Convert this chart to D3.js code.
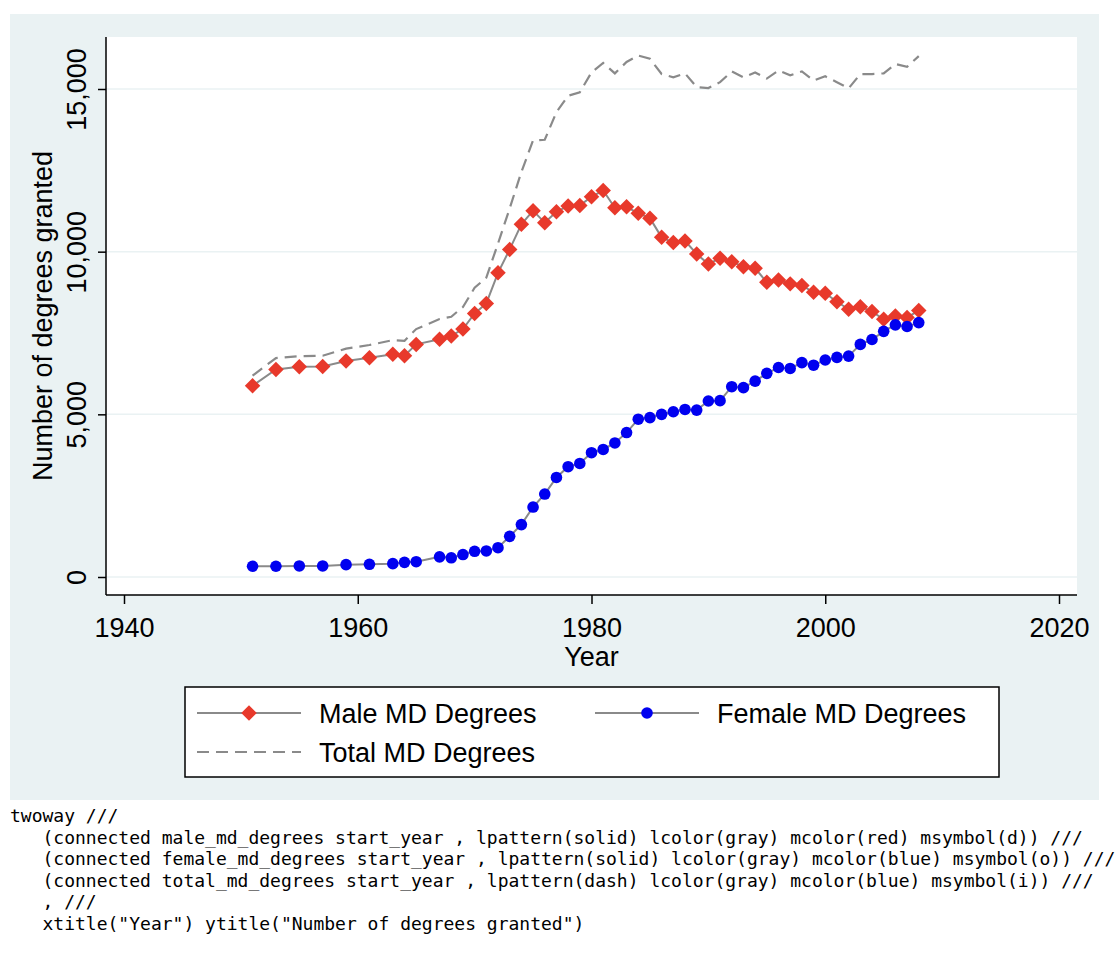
<!DOCTYPE html>
<html>
  <head>
    <script src="https://d3js.org/d3.v7.min.js"></script>
    <style>
      body { margin: 0; background: #fff; }
      text { font-family: "Liberation Sans", Arial, sans-serif; }
      .code { font-family: "DejaVu Sans Mono", monospace; font-size: 18px; white-space: pre; }
    </style>
  </head>
  <body>
    <script>

// values
const years = [1951, 1953, 1955, 1957, 1959, 1961, 1963, 1964, 1965, 1967, 1968, 1969, 1970,
  1971, 1972, 1973, 1974, 1975, 1976, 1977, 1978, 1979, 1980, 1981, 1982, 1983, 1984, 1985,
  1986, 1987, 1988, 1989, 1990, 1991, 1992, 1993, 1994, 1995, 1996, 1997, 1998, 1999, 2000,
  2001, 2002, 2003, 2004, 2005, 2006, 2007, 2008];

const male = [5880, 6380, 6460, 6470, 6640, 6740, 6850, 6800, 7150, 7310, 7410, 7620, 8100,
  8410, 9350, 10070, 10840, 11260, 10890, 11230, 11400, 11420, 11690, 11880, 11350, 11380, 11180, 11030,
  10440, 10280, 10330, 9930, 9620, 9800, 9690, 9540, 9490, 9060, 9130, 9010, 8960, 8750, 8720,
  8460, 8230, 8310, 8160, 7920, 8020, 7980, 8190];

const female = [330, 330, 340, 340, 380, 390, 410, 450, 470, 620, 590, 690, 790,
  800, 900, 1250, 1610, 2150, 2550, 3060, 3390, 3490, 3820, 3920, 4120, 4440, 4850, 4900,
  5000, 5080, 5150, 5130, 5410, 5420, 5850, 5820, 6020, 6260, 6440, 6410, 6590, 6510, 6670,
  6750, 6790, 7150, 7300, 7550, 7750, 7700, 7820];

const total = [6190, 6730, 6790, 6800, 7020, 7130, 7280, 7260, 7620, 7930, 8000, 8300, 8890,
  9200, 10250, 11330, 12450, 13420, 13440, 14290, 14790, 14900, 15510, 15800, 15480, 15830, 16030, 15930,
  15460, 15360, 15480, 15060, 15030, 15210, 15540, 15360, 15510, 15320, 15570, 15420, 15540, 15260, 15390,
  15210, 15020, 15460, 15460, 15480, 15770, 15680, 16010];

const xTicks = [1940, 1960, 1980, 2000, 2020];
const yTicks = [0, 5000, 10000, 15000];

const legendLabels = ["Male MD Degrees", "Female MD Degrees", "Total MD Degrees"];

const codeLines = [
  "twoway ///",
  "   (connected male_md_degrees start_year , lpattern(solid) lcolor(gray) mcolor(red) msymbol(d)) ///",
  "   (connected female_md_degrees start_year , lpattern(solid) lcolor(gray) mcolor(blue) msymbol(o)) ///",
  "   (connected total_md_degrees start_year , lpattern(dash) lcolor(gray) mcolor(blue) msymbol(i)) ///",
  "   , ///",
  "   xtitle(\"Year\") ytitle(\"Number of degrees granted\")"
];

const width = 1116;
const height = 958;

const bgColor = "#eaf2f3";
const lineGray = "#8a8a8a";
const red = "#e8392b";
const blue = "#0000f0";

// plot region
const plot = { left: 106, right: 1077, top: 37, bottom: 595 };

const x = d3.scaleLinear().domain([1940, 2020]).range([124, 1059]);
const y = d3.scaleLinear().domain([0, 15000]).range([577, 89]);

const svg = d3.select("body").append("svg")
    .attr("width", width)
    .attr("height", height);

// graph region
svg.append("rect")
    .attr("x", 10).attr("y", 14)
    .attr("width", 1089).attr("height", 786)
    .attr("fill", bgColor);

svg.append("rect")
    .attr("x", plot.left).attr("y", plot.top)
    .attr("width", plot.right - plot.left).attr("height", plot.bottom - plot.top)
    .attr("fill", "#fff");

// grid
svg.append("g")
  .selectAll("line")
  .data(yTicks)
  .join("line")
    .attr("x1", plot.left).attr("x2", plot.right)
    .attr("y1", d => y(d)).attr("y2", d => y(d))
    .attr("stroke", bgColor)
    .attr("stroke-width", 1.5);

// axes
const yAxis = svg.append("g")
    .attr("transform", `translate(${plot.left},0)`)
    .call(d3.axisLeft(y).tickValues(yTicks).tickFormat(d3.format(",")).tickSize(8).tickPadding(0));
yAxis.select(".domain").attr("d", `M0,${plot.top}V${plot.bottom}`).attr("stroke-width", 1.5);
yAxis.selectAll(".tick line").attr("stroke-width", 1.5);
yAxis.selectAll(".tick text")
    .attr("x", null).attr("dy", null)
    .attr("transform", "translate(-20,0) rotate(-90)")
    .attr("text-anchor", "middle")
    .attr("font-size", 27)
    .attr("font-family", "Liberation Sans")
    .attr("fill", "#000");

const xAxis = svg.append("g")
    .attr("transform", `translate(0,${plot.bottom})`)
    .call(d3.axisBottom(x).tickValues(xTicks).tickFormat(d3.format("d")).tickSize(9).tickPadding(0));
xAxis.select(".domain").attr("d", `M${plot.left},0H${plot.right}`).attr("stroke-width", 1.5);
xAxis.selectAll(".tick line").attr("stroke-width", 1.5);
xAxis.selectAll(".tick text")
    .attr("y", 42).attr("dy", null)
    .attr("font-size", 27)
    .attr("font-family", "Liberation Sans")
    .attr("fill", "#000");

// axis titles
svg.append("text")
    .attr("x", (plot.left + plot.right) / 2)
    .attr("y", 666)
    .attr("text-anchor", "middle")
    .attr("font-size", 27)
    .text("Year");

svg.append("text")
    .attr("transform", `translate(52,${(plot.top + plot.bottom) / 2}) rotate(-90)`)
    .attr("text-anchor", "middle")
    .attr("font-size", 27)
    .text("Number of degrees granted");

// series
const line = vals => d3.line()
    .x((d, i) => x(years[i]))
    .y(d => y(d))(vals);

const diamond = d3.symbol().type(d3.symbolSquare).size(120);

// male
svg.append("path")
    .attr("d", line(male))
    .attr("fill", "none")
    .attr("stroke", lineGray)
    .attr("stroke-width", 2);
svg.append("g")
  .selectAll("path")
  .data(male)
  .join("path")
    .attr("d", diamond)
    .attr("transform", (d, i) => `translate(${x(years[i])},${y(d)}) rotate(45)`)
    .attr("fill", red);

// female
svg.append("path")
    .attr("d", line(female))
    .attr("fill", "none")
    .attr("stroke", lineGray)
    .attr("stroke-width", 2);
svg.append("g")
  .selectAll("circle")
  .data(female)
  .join("circle")
    .attr("cx", (d, i) => x(years[i]))
    .attr("cy", d => y(d))
    .attr("r", 5.8)
    .attr("fill", blue);

// total
svg.append("path")
    .attr("d", line(total))
    .attr("fill", "none")
    .attr("stroke", lineGray)
    .attr("stroke-width", 2.2)
    .attr("stroke-dasharray", "12,7");

// legend
const legend = svg.append("g");
legend.append("rect")
    .attr("x", 185).attr("y", 687)
    .attr("width", 814).attr("height", 90)
    .attr("fill", "#fff")
    .attr("stroke", "#000")
    .attr("stroke-width", 1.5);

const keys = [
  { x: 197, y: 713, label: legendLabels[0], marker: "diamond", dash: null },
  { x: 595, y: 713, label: legendLabels[1], marker: "circle", dash: null },
  { x: 197, y: 752, label: legendLabels[2], marker: null, dash: "12,7" }
];

keys.forEach(k => {
  legend.append("line")
      .attr("x1", k.x).attr("x2", k.x + 104)
      .attr("y1", k.y).attr("y2", k.y)
      .attr("stroke", lineGray)
      .attr("stroke-width", 2.2)
      .attr("stroke-dasharray", k.dash);
  if (k.marker === "diamond") {
    legend.append("path")
        .attr("d", diamond)
        .attr("transform", `translate(${k.x + 52},${k.y}) rotate(45)`)
        .attr("fill", red);
  } else if (k.marker === "circle") {
    legend.append("circle")
        .attr("cx", k.x + 52).attr("cy", k.y).attr("r", 5.8)
        .attr("fill", blue);
  }
  legend.append("text")
      .attr("x", k.x + 122)
      .attr("y", k.y + 10)
      .attr("font-size", 27)
      .text(k.label);
});

// code listing under the graph
svg.append("g")
  .selectAll("text")
  .data(codeLines)
  .join("text")
    .attr("class", "code")
    .attr("xml:space", "preserve")
    .attr("x", 10)
    .attr("y", (d, i) => 822 + i * 21.5)
    .attr("fill", "#000")
    .text(d => d);

    </script>
  </body>
</html>
